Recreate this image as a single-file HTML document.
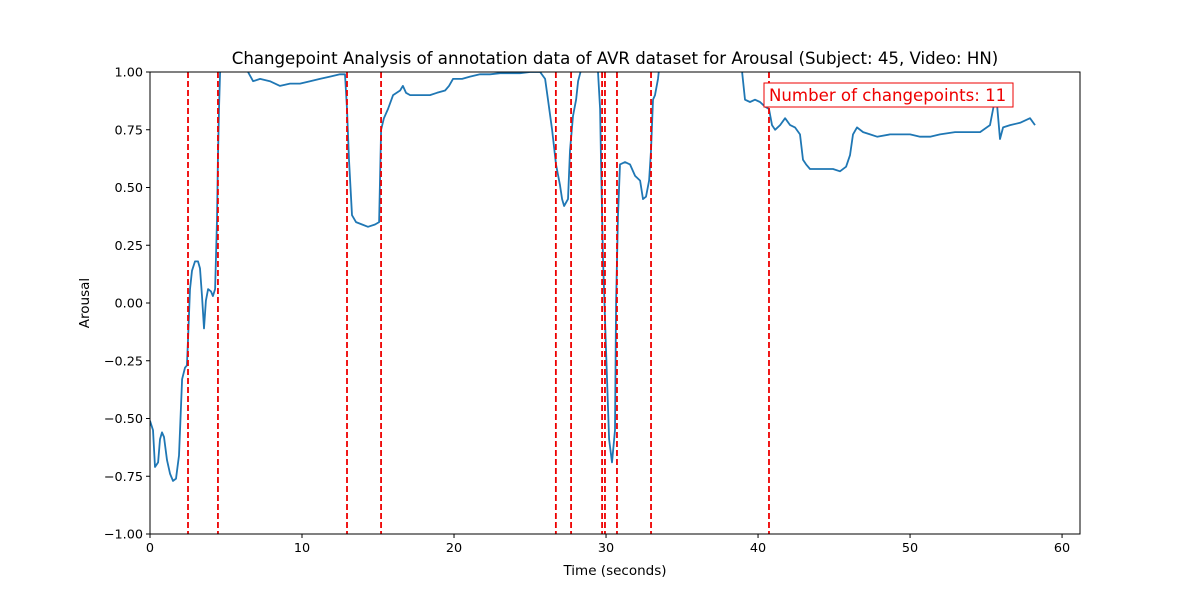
<!DOCTYPE html>
<html><head><meta charset="utf-8"><style>
body{margin:0;background:#fff;}
svg{display:block;font-family:"DejaVu Sans","Liberation Sans",sans-serif;}
</style></head><body>
<svg id="chart" width="1200" height="600">
<defs><clipPath id="clip"><rect x="150" y="72" width="930" height="462"/></clipPath></defs>
<rect x="0" y="0" width="1200" height="600" fill="#fff"/>
<text x="615" y="64" text-anchor="middle" font-size="16.6">Changepoint Analysis of annotation data of AVR dataset for Arousal (Subject: 45, Video: HN)</text>
<g id="xticks"></g>
<g id="yticks"></g>
<text x="615" y="575" text-anchor="middle" font-size="13.5">Time (seconds)</text>
<text x="89" y="303" text-anchor="middle" font-size="13.5" transform="rotate(-90 89 303)">Arousal</text>
<g id="plot" clip-path="url(#clip)"></g>
<rect x="150" y="72" width="930" height="462" fill="none" stroke="#000" stroke-width="1"/>
<rect x="764" y="83" width="249" height="24" fill="#fff" stroke="#e00" stroke-width="1"/>
<text x="769" y="101" font-size="16.6" fill="#e00">Number of changepoints: 11</text>
</svg>
<script>
const times=[0,0.2,0.33,0.53,0.66,0.79,0.92,1.12,1.32,1.51,1.71,1.91,2.11,2.3,2.43,2.5,2.63,2.76,2.96,3.16,3.29,3.42,3.55,3.68,3.82,4.01,4.14,4.28,4.41,4.47,4.54,4.61,4.74,5.92,6.45,6.78,7.24,7.89,8.55,9.21,9.87,10.53,11.18,11.84,12.5,12.83,12.96,13.09,13.29,13.55,13.95,14.34,14.8,15.07,15.2,15.39,15.66,15.99,16.45,16.64,16.84,17.11,17.5,17.76,18.09,18.42,18.88,19.41,19.67,19.93,20.26,20.53,21.05,21.71,22.37,23.03,23.68,24.34,25,25.66,25.99,26.18,26.45,26.71,26.97,27.11,27.24,27.5,27.63,27.83,28.03,28.16,28.36,28.49,29.28,29.47,29.61,29.67,29.8,30,30.2,30.39,30.59,30.66,30.79,30.92,31.25,31.58,31.91,32.24,32.43,32.63,32.83,32.96,33.09,33.22,33.42,33.55,36.18,38.95,39.14,39.47,39.8,40.13,40.46,40.72,40.92,41.12,41.45,41.78,42.11,42.43,42.76,42.96,43.16,43.42,43.75,44.41,44.93,45.39,45.79,46.05,46.25,46.51,46.91,47.37,47.83,48.68,49.34,50,50.66,51.32,51.97,52.96,53.62,54.61,55.26,55.46,55.59,55.72,55.92,56.12,56.58,57.24,57.89,58.22];
const arousal=[-0.51,-0.55,-0.71,-0.69,-0.59,-0.56,-0.58,-0.68,-0.74,-0.77,-0.76,-0.66,-0.33,-0.28,-0.27,-0.16,0.06,0.14,0.18,0.18,0.15,0.03,-0.11,0.01,0.06,0.05,0.03,0.06,0.36,0.62,0.84,1.0,1.14,1.14,1.0,0.96,0.97,0.96,0.94,0.95,0.95,0.96,0.97,0.98,0.99,0.99,0.84,0.62,0.38,0.35,0.34,0.33,0.34,0.35,0.75,0.8,0.84,0.9,0.92,0.94,0.91,0.9,0.9,0.9,0.9,0.9,0.91,0.92,0.94,0.97,0.97,0.97,0.98,0.99,0.99,0.995,0.995,0.995,1.0,1.0,0.97,0.88,0.75,0.6,0.51,0.45,0.42,0.45,0.66,0.81,0.88,0.96,1.01,1.1,1.1,1.0,0.84,0.62,0.19,-0.2,-0.59,-0.69,-0.55,0.01,0.38,0.6,0.61,0.6,0.55,0.53,0.45,0.46,0.53,0.66,0.88,0.9,0.97,1.05,1.1,1.0,0.88,0.87,0.88,0.87,0.85,0.84,0.77,0.75,0.77,0.8,0.77,0.76,0.73,0.62,0.6,0.58,0.58,0.58,0.58,0.57,0.59,0.64,0.73,0.76,0.74,0.73,0.72,0.73,0.73,0.73,0.72,0.72,0.73,0.74,0.74,0.74,0.77,0.84,0.88,0.86,0.71,0.76,0.77,0.78,0.8,0.77];
const changepoints=[2.5,4.47,12.96,15.2,26.7,27.7,29.74,29.93,30.72,32.96,40.72];
const xTicks=[0,10,20,30,40,50,60];
const yTicks=[-1,-0.75,-0.5,-0.25,0,0.25,0.5,0.75,1];
const yTickLabels=["−1.00","−0.75","−0.50","−0.25","0.00","0.25","0.50","0.75","1.00"];

const NS="http://www.w3.org/2000/svg";
const X0=150,X1=1080,Y0=72,Y1=534,XMIN=0,XMAX=61.18,YMIN=-1,YMAX=1;
const xs=v=>X0+(v-XMIN)/(XMAX-XMIN)*(X1-X0);
const ys=v=>Y1-(v-YMIN)/(YMAX-YMIN)*(Y1-Y0);
function mk(tag,attrs,parent){const e=document.createElementNS(NS,tag);for(const k in attrs)e.setAttribute(k,attrs[k]);parent.appendChild(e);return e;}
const gx=document.getElementById('xticks'),gy=document.getElementById('yticks'),plot=document.getElementById('plot');
xTicks.forEach(t=>{
  const l=mk('line',{x1:xs(t),x2:xs(t),y1:Y1,y2:Y1+4,stroke:'#000'},gx);
  
  
  const tx=mk('text',{x:xs(t),y:Y1+18,'text-anchor':'middle','font-size':'12.8'},gx);
  tx.textContent=t;
  
  
});
yTicks.forEach((t,i)=>{
  const l=mk('line',{x1:X0-4,x2:X0,y1:ys(t),y2:ys(t),stroke:'#000'},gy);
  
  
  const tx=mk('text',{x:X0-7,y:ys(t)+4.5,'text-anchor':'end','font-size':'12.8'},gy);
  tx.textContent=yTickLabels[i];
  
  
});
let d='';
times.forEach((t,i)=>{d+=(i?'L':'M')+xs(t).toFixed(1)+','+ys(arousal[i]).toFixed(1);});
const line=mk('path',{d:d,fill:'none',stroke:'#1f77b4','stroke-width':'1.8','stroke-linejoin':'round'},plot);


changepoints.forEach(c=>{
  const l=mk('line',{x1:xs(c),x2:xs(c),y1:Y0,y2:Y1,stroke:'#e00','stroke-width':'1.8','stroke-dasharray':'6,3'},plot);
  
  
});
</script>
</body></html>
